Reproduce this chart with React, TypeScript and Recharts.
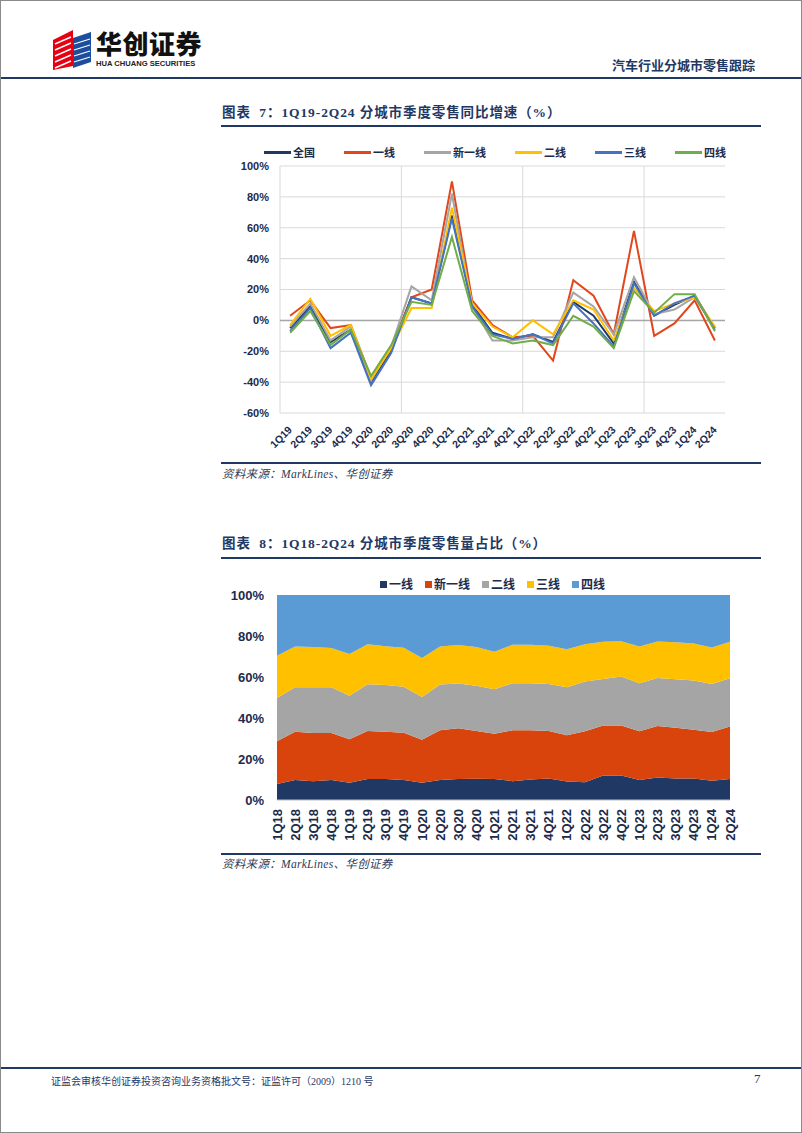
import { LineChart, Line, AreaChart, Area, XAxis, YAxis, CartesianGrid, ReferenceLine } from 'recharts';

// 图表7：同比增速（%）
const growthQuarters = ['1Q19', '2Q19', '3Q19', '4Q19', '1Q20', '2Q20', '3Q20', '4Q20', '1Q21', '2Q21', '3Q21', '4Q21', '1Q22', '2Q22', '3Q22', '4Q22', '1Q23', '2Q23', '3Q23', '4Q23', '1Q24', '2Q24'];
const nationalGrowth = [-5, 9, -14, -6, -40, -19, 15, 11, 68, 10, -8, -12, -9, -14, 12, 3, -15, 25, 3, 10, 16, -5];
const tier1Growth = [3, 13, -5, -3, -37, -18, 15, 20, 90, 13, -3, -11, -10, -26, 26, 16, -9, 58, -10, -2, 13, -13];
const newTier1Growth = [-4, 11, -13, -4, -39, -17, 22, 13, 82, 9, -13, -13, -11, -11, 18, 9, -9, 28, 4, 7, 15, -5];
const tier2Growth = [-3, 14, -10, -3, -38, -18, 8, 8, 73, 11, -4, -11, 0, -9, 13, 7, -13, 21, 6, 11, 15, -4];
const tier3Growth = [-7, 8, -18, -8, -42, -21, 15, 11, 66, 9, -9, -12, -9, -15, 11, -2, -17, 24, 3, 11, 16, -6];
const tier4Growth = [-8, 6, -16, -6, -36, -16, 12, 10, 54, 6, -10, -15, -13, -16, 3, -4, -18, 19, 5, 17, 17, -7];
const growthTicks = [-60, -40, -20, 0, 20, 40, 60, 80, 100];
const growthDividers = [-0.5, 5.5, 11.5, 17.5];

// 图表8：零售量占比（%）
const shareQuarters = ['1Q18', '2Q18', '3Q18', '4Q18', '1Q19', '2Q19', '3Q19', '4Q19', '1Q20', '2Q20', '3Q20', '4Q20', '1Q21', '2Q21', '3Q21', '4Q21', '1Q22', '2Q22', '3Q22', '4Q22', '1Q23', '2Q23', '3Q23', '4Q23', '1Q24', '2Q24'];
const tier1Share = [7.8, 9.7, 9.2, 9.7, 8.4, 10.2, 10.2, 9.7, 8.4, 9.7, 10.2, 10.4, 10.2, 9.2, 10.0, 10.5, 9.0, 8.7, 12.0, 12.0, 9.7, 11.0, 10.5, 10.5, 9.4, 10.2];
const newTier1Share = [20.8, 23.6, 23.5, 23.0, 21.2, 23.5, 23.1, 23.1, 21.0, 24.3, 24.8, 23.3, 22.1, 24.8, 24.0, 23.2, 22.6, 24.8, 24.4, 24.4, 23.8, 25.1, 24.8, 23.8, 23.8, 25.7];
const tier2Share = [21.2, 21.7, 22.3, 22.3, 21.2, 22.8, 22.8, 22.5, 20.8, 22.3, 21.8, 22.0, 21.7, 23.0, 23.0, 22.9, 23.4, 24.3, 22.6, 23.8, 23.5, 23.4, 23.6, 24.0, 23.4, 23.5];
const tier3Share = [20.6, 19.9, 19.6, 19.1, 20.4, 19.5, 18.9, 19.0, 19.1, 18.6, 18.8, 18.9, 18.3, 18.7, 18.7, 18.6, 18.5, 18.2, 18.2, 17.3, 17.9, 17.8, 18.0, 18.1, 17.8, 17.8];
const tier4Share = [29.6, 25.1, 25.4, 25.9, 28.8, 24.0, 25.0, 25.7, 30.7, 25.1, 24.4, 25.4, 27.7, 24.3, 24.3, 24.8, 26.5, 24.0, 22.8, 22.5, 25.1, 22.7, 23.1, 23.6, 25.6, 22.8];
const shareTicks = [0, 0.2, 0.4, 0.6, 0.8, 1];

const navy = '#1f3864';
const axisText = '#1c2b4a';
const sans = '"Liberation Sans", Arial, "Noto Sans CJK SC", sans-serif';
const serif = '"Liberation Serif", "Times New Roman", "Noto Sans CJK SC", serif';

const growthSeries = [
  { key: 'national', name: '全国', color: '#1f3864', values: nationalGrowth },
  { key: 'tier1', name: '一线', color: '#e2461b', values: tier1Growth },
  { key: 'newTier1', name: '新一线', color: '#a5a5a5', values: newTier1Growth },
  { key: 'tier2', name: '二线', color: '#ffc000', values: tier2Growth },
  { key: 'tier3', name: '三线', color: '#4472c4', values: tier3Growth },
  { key: 'tier4', name: '四线', color: '#70ad47', values: tier4Growth },
];

const shareSeries = [
  { key: 'tier1', name: '一线', color: '#1f3864', values: tier1Share },
  { key: 'newTier1', name: '新一线', color: '#d9440c', values: newTier1Share },
  { key: 'tier2', name: '二线', color: '#a5a5a5', values: tier2Share },
  { key: 'tier3', name: '三线', color: '#ffc000', values: tier3Share },
  { key: 'tier4', name: '四线', color: '#5b9bd5', values: tier4Share },
];

const growthRows = growthQuarters.map((q, i) => {
  const row: Record<string, number | string> = { idx: i, quarter: q };
  growthSeries.forEach((s) => (row[s.key] = s.values[i]));
  return row;
});

const shareRows = shareQuarters.map((q, i) => {
  const row: Record<string, number | string> = { quarter: q };
  shareSeries.forEach((s) => (row[s.key] = s.values[i]));
  return row;
});

const DiagonalTick = ({ x, y, payload }: any) => (
  <text
    x={x}
    y={y + 7}
    dy="0.35em"
    textAnchor="end"
    transform={`rotate(-45 ${x} ${y + 7})`}
    fontSize={10.5}
    fontWeight={700}
    fontFamily={sans}
    fill={axisText}
  >
    {growthQuarters[payload.value]}
  </text>
);

const VerticalTick = ({ x, y, payload }: any) => (
  <text
    x={x}
    y={y + 1}
    dy="0.35em"
    textAnchor="end"
    transform={`rotate(-90 ${x} ${y + 1})`}
    fontSize={13}
    fontWeight={700}
    fontFamily={sans}
    fill={axisText}
  >
    {payload.value}
  </text>
);

function Logo() {
  return (
    <div style={{ position: 'absolute', left: 52, top: 27 }}>
      <svg width={40} height={42}>
        <polygon points="0,12 20,2 20,38 0,42" fill="#e60012" />
        {[8, 14, 20, 26, 32].map((d) => (
          <line key={d} x1={2} y1={d + 8} x2={18} y2={d + 1} stroke="#fff" strokeWidth={1.4} />
        ))}
        <polygon points="20,10 38,4 38,34 20,40" fill="#1d4e9e" />
        {[10, 16, 22, 28].map((d) => (
          <line key={d} x1={21} y1={d + 6} x2={37} y2={d + 1} stroke="#fff" strokeWidth={1.2} />
        ))}
      </svg>
      <div style={{ position: 'absolute', left: 43, top: 0, fontFamily: '"Noto Sans CJK SC", sans-serif', fontWeight: 900, fontSize: 26, lineHeight: '30px', color: '#111', letterSpacing: 0.5, whiteSpace: 'nowrap' }}>
        华创证券
      </div>
      <div style={{ position: 'absolute', left: 43, top: 31, fontFamily: sans, fontWeight: 700, fontSize: 7.6, color: '#222', whiteSpace: 'nowrap' }}>
        HUA CHUANG SECURITIES
      </div>
    </div>
  );
}

function Rule({ top, left = 220, width = 540, height = 2 }: { top: number; left?: number; width?: number; height?: number }) {
  return <div style={{ position: 'absolute', top, left, width, height, background: navy }} />;
}

function Title({ top, label, text }: { top: number; label: string; text: string }) {
  return (
    <div style={{ position: 'absolute', left: 221, top, fontFamily: serif, fontWeight: 700, fontSize: 13.5, color: navy, whiteSpace: 'pre', lineHeight: '18px', letterSpacing: 0.9 }}>
      {`图表  ${label}：`}
      {text}
    </div>
  );
}

function Source({ top }: { top: number }) {
  return (
    <div style={{ position: 'absolute', left: 221, top, fontFamily: serif, fontStyle: 'italic', fontSize: 11.5, color: '#2c3a57', whiteSpace: 'nowrap', lineHeight: '16px', letterSpacing: 0.3 }}>
      资料来源：MarkLines、华创证券
    </div>
  );
}

export default function App() {
  return (
    <div style={{ position: 'absolute', left: 0, top: 0, width: 802, height: 1133, boxSizing: 'border-box', border: '1px solid #8a8a8a', background: '#fff', overflow: 'hidden' }}>
      <Logo />
      <div style={{ position: 'absolute', left: 611, top: 54, fontFamily: '"Noto Sans CJK SC", sans-serif', fontWeight: 700, fontSize: 13, color: navy, whiteSpace: 'nowrap' }}>
        汽车行业分城市零售跟踪
      </div>
      <Rule top={76} left={0} width={802} />

      <Title top={103} label="7" text="1Q19-2Q24 分城市季度零售同比增速（%）" />
      <Rule top={124} />

      <div style={{ position: 'absolute', left: 263, top: 143, display: 'flex', alignItems: 'center', gap: 29 }}>
        {growthSeries.map((s) => (
          <div key={s.key} style={{ display: 'flex', alignItems: 'center' }}>
            <div style={{ width: 27, height: 3, background: s.color, marginRight: 2 }} />
            <span style={{ fontFamily: '"Noto Sans CJK SC", sans-serif', fontWeight: 700, fontSize: 11, color: axisText, lineHeight: '16px' }}>{s.name}</span>
          </div>
        ))}
      </div>

      <div style={{ position: 'absolute', left: 210, top: 140 }}>
        <LineChart width={530} height={330} data={growthRows} margin={{ top: 25, right: 16, bottom: 8, left: 9 }}>
          <CartesianGrid vertical={false} stroke="#d9d9d9" />
          <XAxis
            type="number"
            dataKey="idx"
            domain={[-0.5, 21.5]}
            ticks={growthQuarters.map((_, i) => i)}
            interval={0}
            axisLine={false}
            tickLine={false}
            height={50}
            tick={<DiagonalTick />}
          />
          <YAxis
            domain={[-60, 100]}
            ticks={growthTicks}
            tickFormatter={(v) => `${v}%`}
            width={60}
            axisLine={false}
            tickLine={false}
            tickMargin={5}
            tick={{ fontSize: 11, fontWeight: 700, fill: axisText, fontFamily: sans }}
          />
          {growthDividers.map((d) => (
            <ReferenceLine key={d} x={d} stroke="#d9d9d9" />
          ))}
          <ReferenceLine y={0} stroke="#a6a6a6" strokeWidth={1.5} />
          {growthSeries.map((s) => (
            <Line key={s.key} type="linear" dataKey={s.key} name={s.name} stroke={s.color} strokeWidth={2} dot={false} isAnimationActive={false} />
          ))}
        </LineChart>
      </div>

      <Rule top={461} />
      <Source top={465} />

      <Title top={534} label="8" text="1Q18-2Q24 分城市季度零售量占比（%）" />
      <Rule top={556} />

      <div style={{ position: 'absolute', left: 379, top: 575, display: 'flex', alignItems: 'center', gap: 12 }}>
        {shareSeries.map((s) => (
          <div key={s.key} style={{ display: 'flex', alignItems: 'center' }}>
            <div style={{ width: 7, height: 7, background: s.color, marginRight: 2 }} />
            <span style={{ fontFamily: '"Noto Sans CJK SC", sans-serif', fontWeight: 700, fontSize: 12, color: axisText, lineHeight: '16px' }}>{s.name}</span>
          </div>
        ))}
      </div>

      <div style={{ position: 'absolute', left: 210, top: 570 }}>
        <AreaChart width={535} height={285} data={shareRows} stackOffset="expand" margin={{ top: 24, right: 16, bottom: 6, left: 8 }}>
          <XAxis
            dataKey="quarter"
            interval={0}
            axisLine={{ stroke: '#bfbfbf' }}
            tickLine={false}
            height={50}
            tick={<VerticalTick />}
          />
          <YAxis
            domain={[0, 1]}
            ticks={shareTicks}
            tickFormatter={(v) => `${Math.round(v * 100)}%`}
            width={58}
            axisLine={false}
            tickLine={false}
            tickMargin={7}
            tick={{ fontSize: 13, fontWeight: 700, fill: axisText, fontFamily: sans }}
          />
          {shareSeries.map((s) => (
            <Area key={s.key} type="linear" dataKey={s.key} name={s.name} stackId="share" stroke="none" fill={s.color} fillOpacity={1} isAnimationActive={false} />
          ))}
        </AreaChart>
      </div>

      <Rule top={852} />
      <Source top={855} />

      <Rule top={1066} left={0} width={802} />
      <div style={{ position: 'absolute', left: 50, top: 1072, fontFamily: serif, fontSize: 10, color: navy, whiteSpace: 'nowrap' }}>
        证监会审核华创证券投资咨询业务资格批文号：证监许可（2009）1210 号
      </div>
      <div style={{ position: 'absolute', left: 753, top: 1070, fontFamily: serif, fontSize: 13, color: navy }}>7</div>
    </div>
  );
}
